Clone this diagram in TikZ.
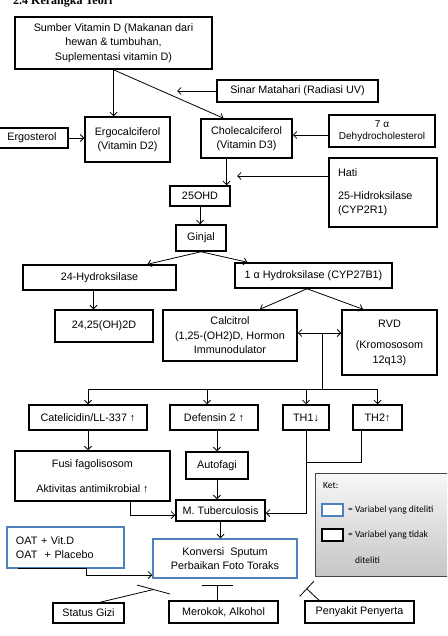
\documentclass[tikz,border=0pt]{standalone}
\usepackage{fontspec}
\setmainfont{Liberation Sans}
\newfontfamily\headfont{Liberation Serif}
\newfontfamily\ketfont{Carlito}
\usepackage{xcolor}
\usepackage{tikz}
\usetikzlibrary{arrows.meta}
\definecolor{ketblue}{RGB}{79,129,189}

\begin{document}
\begin{tikzpicture}[
  x=1pt, y=-1pt,
  font=\fontsize{10.8}{14.5}\selectfont,
  box/.style={draw, line width=1.5pt, align=center, inner sep=2pt, fill=white},
  studied/.style={box, draw=ketblue},
  arrow/.style={-{Straight Barb[length=3.5pt,width=7pt]}, line width=0.8pt},
  link/.style={line width=0.8pt},
  inhibit/.style={-{Bar[width=#1]}, line width=0.8pt},
  ketbox/.style={draw=gray!55!black, line width=0.8pt, top color=gray!6, bottom color=gray!45, minimum width=137pt, minimum height=103pt},
  keybox/.style={draw, fill=white, minimum width=21pt, minimum height=12pt, inner sep=0pt},
  kettext/.style={anchor=west, inner sep=0pt, font=\ketfont\fontsize{9.5}{11}\selectfont}
]
\useasboundingbox (0,0) rectangle (447,636);
\clip (0,0) rectangle (447,636);

\node[anchor=base west, inner sep=0pt, font=\headfont\bfseries\fontsize{12}{14}\selectfont] (Judul) at (13,4.5) {2.4 Kerangka Teori};

\node[box, minimum width=197pt, minimum height=52pt] (Sumber) at (113.5,43) {Sumber Vitamin D (Makanan dari\\hewan \& tumbuhan,\\Suplementasi vitamin D)};
\node[box, minimum width=161pt, minimum height=22pt] (Sinar) at (297.5,91) {Sinar Matahari (Radiasi UV)};
\node[box, minimum width=72pt, minimum height=20pt] (Ergosterol) at (32,138) {Ergosterol};
\node[box, minimum width=85pt, minimum height=45pt] (Ergo) at (127.5,139.5) {Ergocalciferol\\(Vitamin D2)};
\node[box, minimum width=91pt, minimum height=39pt] (Chole) at (246.5,138.5) {Cholecalciferol\\(Vitamin D3)};
\node[box, minimum width=106pt, minimum height=32pt, font=\fontsize{10}{12}\selectfont] (Dehydro) at (382,131) {7 α\\Dehydrocholesterol};
\node[box, align=left, text width=90pt, inner xsep=9pt, minimum height=69pt] (Hati) at (383,192.5) {Hati\\[8pt]25-Hidroksilase\\(CYP2R1)};
\node[box, minimum width=60pt, minimum height=20pt] (OHD) at (200,196) {25OHD};
\node[box, minimum width=50pt, minimum height=26pt] (Ginjal) at (201,238) {Ginjal};
\node[box, minimum width=153pt, minimum height=25pt] (Hyd24) at (99.5,277.5) {24-Hydroksilase};
\node[box, minimum width=157pt, minimum height=25pt] (Hyd1a) at (313.5,275.5) {1 α Hydroksilase (CYP27B1)};
\node[box, minimum width=98pt, minimum height=32pt] (D2425) at (104,326) {24,25(OH)2D};
\node[box, minimum width=134pt, minimum height=51pt] (Calcitrol) at (230,335.5) {Calcitrol\\(1,25-(OH2)D, Hormon\\Immunodulator};
\node[box, minimum width=95pt, minimum height=65pt] (RVD) at (389.5,342.5) {RVD\\[7pt](Kromososom\\12q13)};
\node[box, minimum width=118pt, minimum height=25pt] (Cateli) at (88,417.5) {Catelicidin/LL-337 ↑};
\node[box, minimum width=88pt, minimum height=25pt] (Defensin) at (214,417.5) {Defensin 2 ↑};
\node[box, minimum width=46pt, minimum height=25pt] (TH1) at (306,417.5) {TH1↓};
\node[box, minimum width=49pt, minimum height=25pt] (TH2) at (377.5,417.5) {TH2↑};
\node[box, minimum width=155pt, minimum height=50pt] (Fusi) at (92.5,476) {Fusi fagolisosom\\[10pt]Aktivitas antimikrobial ↑};
\node[box, minimum width=62pt, minimum height=27pt] (Autofagi) at (217,465.5) {Autofagi};
\node[box, minimum width=89pt, minimum height=21pt] (MTB) at (220.5,510.5) {M. Tuberculosis};
\node[studied, minimum width=144pt, minimum height=39pt] (Konversi) at (225,558.5) {Konversi\ \ Sputum\\Perbaikan Foto Toraks};
\node[studied, align=left, text width=99pt, inner xsep=9pt, minimum height=41pt] (OAT) at (65.5,547.5) {OAT + Vit.D\\OAT\ \ + Placebo};
\node[box, minimum width=71pt, minimum height=20pt] (Gizi) at (88.5,613) {Status Gizi};
\node[box, minimum width=109pt, minimum height=22pt] (Merokok) at (223.5,612) {Merokok, Alkohol};
\node[box, minimum width=109pt, minimum height=22pt] (Penyakit) at (359.5,612) {Penyakit Penyerta};

\node[ketbox] (Ket) at (383.5,524.5) {};
\node[kettext] (KetLabel) at (323,485) {Ket:};
\node[keybox, draw=ketblue, line width=1.2pt] (KeyBlue) at (332.5,510) {};
\node[keybox, line width=2pt] (KeyBlack) at (332.5,535) {};
\node[kettext] (KeyBlueText) at (348,510) {= Variabel yang diteliti};
\node[kettext] (KeyBlackText) at (348,535) {= Variabel yang tidak};
\node[kettext] (KeyBlackText2) at (355,560) {diteliti};

\coordinate (CholeIn) at ([xshift=-23pt]Chole.north);
\coordinate (CholeOut) at ([xshift=-20pt]Chole.south);
\coordinate (DehydroOut) at ([yshift=-4pt]Dehydro.west);
\coordinate (UVEnd) at (177,91);
\coordinate (HatiEnd) at (237,176);
\coordinate (Hyd24Out) at ([xshift=-6pt]Hyd24.south);
\coordinate (Hyd1aOut) at ([xshift=-6.5pt]Hyd1a.south);
\coordinate (VDR) at (322,333);
\coordinate (Split) at (322,389);
\coordinate (DefIn) at ([xshift=-7pt]Defensin.north);
\coordinate (FusiOut) at ([xshift=37.5pt]Fusi.south);
\coordinate (MTBInL) at ([yshift=-4.5pt]MTB.west);
\coordinate (MTBInR) at ([yshift=-2.5pt]MTB.east);
\coordinate (TH2Out) at ([xshift=-16.5pt]TH2.south);
\coordinate (THJoin) at (306,462);
\coordinate (OATStart) at ([xshift=-47.5pt]OAT.south);
\coordinate (OATOut) at ([xshift=20.5pt]OAT.south);
\coordinate (KonvIn) at ([yshift=-16.5pt]Konversi.west);
\coordinate (GiziOut) at ([xshift=11.5pt]Gizi.north);
\coordinate (GiziBar) at (153.5,589.5);
\coordinate (GiziBarA) at (137,585);
\coordinate (GiziBarB) at (170,594);
\coordinate (SmokeOut) at ([xshift=-6.5pt]Merokok.north);
\coordinate (SmokeBar) at (217,585);
\coordinate (ComorbOut) at ([xshift=-40.5pt]Penyakit.north);
\coordinate (ComorbBar) at (306.5,588.5);

\draw[arrow] (Sumber.south) -- (Sumber.south |- Ergo.north);
\draw[arrow] (Sumber.south) -- (CholeIn);
\draw[arrow] (Sinar.west) -- (UVEnd);
\draw[arrow] (Ergosterol.east) -- (Ergosterol.east -| Ergo.west);
\draw[arrow] (DehydroOut) -- (DehydroOut -| Chole.east);
\draw[arrow] (CholeOut) -- (CholeOut |- OHD.north);
\draw[arrow] (Hati.west |- HatiEnd) -- (HatiEnd);
\draw[arrow] (OHD.south) -- (OHD.south |- Ginjal.north);
\draw[arrow] (Ginjal.south) -- ([xshift=48pt]Hyd24.north);
\draw[arrow] (Ginjal.south) -- ([xshift=-66pt]Hyd1a.north);
\draw[arrow] (Hyd24Out) -- (Hyd24Out |- D2425.north);
\draw[arrow] (Hyd1aOut) -- ([xshift=30pt]Calcitrol.north);
\draw[arrow] (Hyd1aOut) -- ([xshift=-26.5pt]RVD.north);
\draw[arrow] (VDR) -- (VDR -| Calcitrol.east);
\draw[arrow] (VDR) -- (VDR -| RVD.west);
\draw[link] (VDR) -- (Split);
\draw[link] (Cateli.north |- Split) -- (TH2.north |- Split);
\foreach \t in {Cateli, TH1, TH2}
  \draw[arrow] (\t.north |- Split) -- (\t.north);
\draw[arrow] (DefIn |- Split) -- (DefIn);
\draw[arrow] (Cateli.south) -- (Cateli.south |- Fusi.north);
\draw[arrow] (Autofagi.north |- Defensin.south) -- (Autofagi.north);
\draw[arrow] (Autofagi.south) -- (Autofagi.south |- MTB.north);
\draw[arrow] (FusiOut) |- (MTBInL);
\draw[arrow] (TH1.south) |- (MTBInR);
\draw[link] (TH2Out) |- (THJoin);
\draw[arrow] (MTB.south) -- (MTB.south |- Konversi.north);
\draw[arrow] (OATStart) -- (OATOut) |- (KonvIn);
\draw[link] (GiziOut) -- (GiziBar);
\draw[link] (GiziBarA) -- (GiziBarB);
\draw[inhibit=31pt] (SmokeOut) -- (SmokeBar);
\draw[inhibit=21pt] (ComorbOut) -- (ComorbBar);
\end{tikzpicture}
\end{document}
